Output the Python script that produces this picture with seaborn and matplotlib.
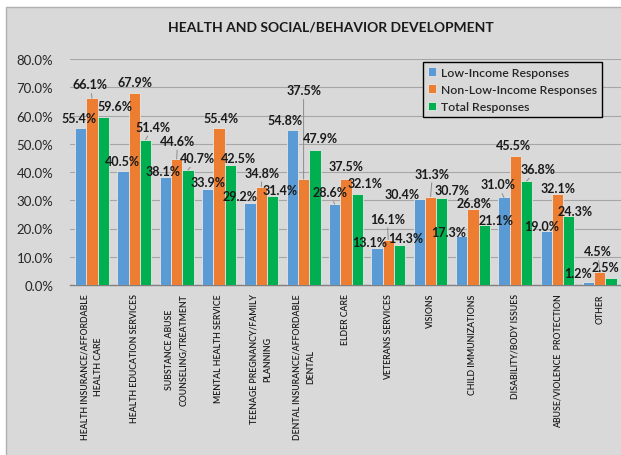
import numpy as np
import pandas as pd
import matplotlib
matplotlib.use('Agg')
import matplotlib.pyplot as plt
from matplotlib.patches import Rectangle
from matplotlib.ticker import FuncFormatter, MultipleLocator
import seaborn as sns

# ---- data ----
categories = [
    'HEALTH INSURANCE/AFFORDABLE\nHEALTH CARE',
    'HEALTH EDUCATION SERVICES',
    'SUBSTANCE ABUSE\nCOUNSELING/TREATMENT',
    'MENTAL HEALTH SERVICE',
    'TEENAGE PREGNANCY/FAMILY\nPLANNING',
    'DENTAL INSURANCE/AFFORDABLE\nDENTAL',
    'ELDER CARE',
    'VETERANS SERVICES',
    'VISIONS',
    'CHILD IMMUNIZATIONS',
    'DISABILITY/BODY ISSUES',
    'ABUSE/VIOLENCE  PROTECTION',
    'OTHER',
]
series_names = ['Low-Income Responses', 'Non-Low-Income Responses', 'Total Responses']
low_income = [55.4, 40.5, 38.1, 33.9, 29.2, 54.8, 28.6, 13.1, 30.4, 17.3, 31.0, 19.0, 1.2]
non_low_income = [66.1, 67.9, 44.6, 55.4, 34.8, 37.5, 37.5, 16.1, 31.3, 26.8, 45.5, 32.1, 4.5]
total = [59.6, 51.4, 40.7, 42.5, 31.4, 47.9, 32.1, 14.3, 30.7, 21.1, 36.8, 24.3, 2.5]

colors = ['#5B9BD5', '#ED7D31', '#00B050']

# label offsets in pixels (dx, dy) from bar top, and whether a leader line is drawn
offsets = [
    [(-2, 10), (-1, 10), (-2, 6), (0, 7), (-10, 7), (-7, 10), (-5, 12), (-7, 6), (-17, 5), (-13, 4), (-6, 13), (-5, 5), (-11, 9)],
    [(-2, 14), (1, 11), (1, 18), (2, 10), (1, 14), (0, 89), (0, 13), (-1, 21), (2, 23), (1, 6), (-2, 11), (1, 6), (-2, 21)],
    [(12, 11), (7, 13), (10, 12), (8, 7), (8, 6), (6, 12), (8, 11), (6, 7), (10, 8), (12, 5), (12, 12), (6, 5), (-6, 11)],
]
leaders = [
    [0, 0, 0, 0, 0, 0, 1, 0, 0, 0, 1, 0, 0],
    [1, 0, 1, 0, 1, 1, 0, 1, 1, 0, 0, 0, 1],
    [0, 1, 1, 0, 0, 0, 0, 0, 0, 0, 1, 0, 0],
]

rows = []
for name, vals in zip(series_names, [low_income, non_low_income, total]):
    for c, v in zip(categories, vals):
        rows.append({'category': c, 'series': name, 'value': v})
df = pd.DataFrame(rows)

sns.set_style('white')
plt.rcParams['font.family'] = ['Lato', 'DejaVu Sans']

bg = '#d9d9d9'
fig = plt.figure(figsize=(6.21, 4.56), dpi=100)
fig.patch.set_facecolor('white')
fig.patches.append(Rectangle((6 / 621, -0.1), 1.2, 1 - 8 / 456 + 0.1, transform=fig.transFigure,
                             facecolor=bg, edgecolor='#b0b0b0', linewidth=1, zorder=-5))

ax = fig.add_axes([70 / 621, 1 - 286 / 456, 551 / 621, 226 / 456])
ax.set_facecolor(bg)
ax.set_zorder(2)

sns.barplot(data=df, x='category', y='value', hue='series', order=categories,
            hue_order=series_names, palette=colors, saturation=1, width=0.8,
            edgecolor='#e6e6e6', linewidth=0.6, ax=ax, legend=True, zorder=3)

ax.set_ylim(0, 80)
ax.set_xlim(-0.52, 12.5)
ax.yaxis.set_major_locator(MultipleLocator(10))
ax.yaxis.set_major_formatter(FuncFormatter(lambda v, p: f'{v:.1f}%'))
ax.grid(axis='y', color='#a6a6a6', linewidth=0.8, zorder=0)
ax.set_axisbelow(True)
for s in ['top', 'right', 'left']:
    ax.spines[s].set_visible(False)
ax.spines['bottom'].set_color('#808080')
ax.spines['bottom'].set_linewidth(1)
ax.tick_params(axis='both', length=0)
ax.tick_params(axis='y', labelsize=9.5, colors='#262626', pad=12)
ax.set_xlabel('')
ax.set_ylabel('')
ax.set_xticks(range(len(categories)))
ax.set_xticklabels(categories, rotation=90, ha='center', va='top', multialignment='center',
                   fontsize=6.3, fontweight='semibold', color='#1a1a1a', linespacing=1.7)
ax.tick_params(axis='x', pad=6)

# data labels
for si, cont in enumerate(ax.containers):
    for bi, bar in enumerate(cont.patches):
        xc = bar.get_x() + bar.get_width() / 2
        h = bar.get_height()
        dx, dy = offsets[si][bi]
        arrow = dict(arrowstyle='-', color='#8c8c8c', lw=0.7, shrinkA=0, shrinkB=0) if leaders[si][bi] else None
        ax.annotate(f'{h:.1f}%', xy=(xc, h), xytext=(dx, dy), textcoords='offset pixels',
                    ha='center', va='center', fontsize=9, fontweight='bold', color='#1a1a1a',
                    arrowprops=arrow, annotation_clip=False, zorder=5)

leg = ax.legend(loc='upper left', bbox_to_anchor=(423 / 621, 1 - 63 / 456),
                bbox_transform=fig.transFigure, frameon=True, fancybox=False,
                edgecolor='black', facecolor=bg, framealpha=1, fontsize=8.8,
                handlelength=0.7, handleheight=0.7, handletextpad=0.4,
                labelspacing=0.5, borderpad=0.4, borderaxespad=0)
leg.get_frame().set_linewidth(1)
for t in leg.get_texts():
    t.set_fontweight('semibold')

fig.text(331 / 621, 1 - 28 / 456, 'HEALTH AND SOCIAL/BEHAVIOR DEVELOPMENT',
         ha='center', va='center', fontsize=10, fontweight='bold', color='#1a1a1a')

fig.savefig('out.png', dpi=100, facecolor=fig.get_facecolor())
